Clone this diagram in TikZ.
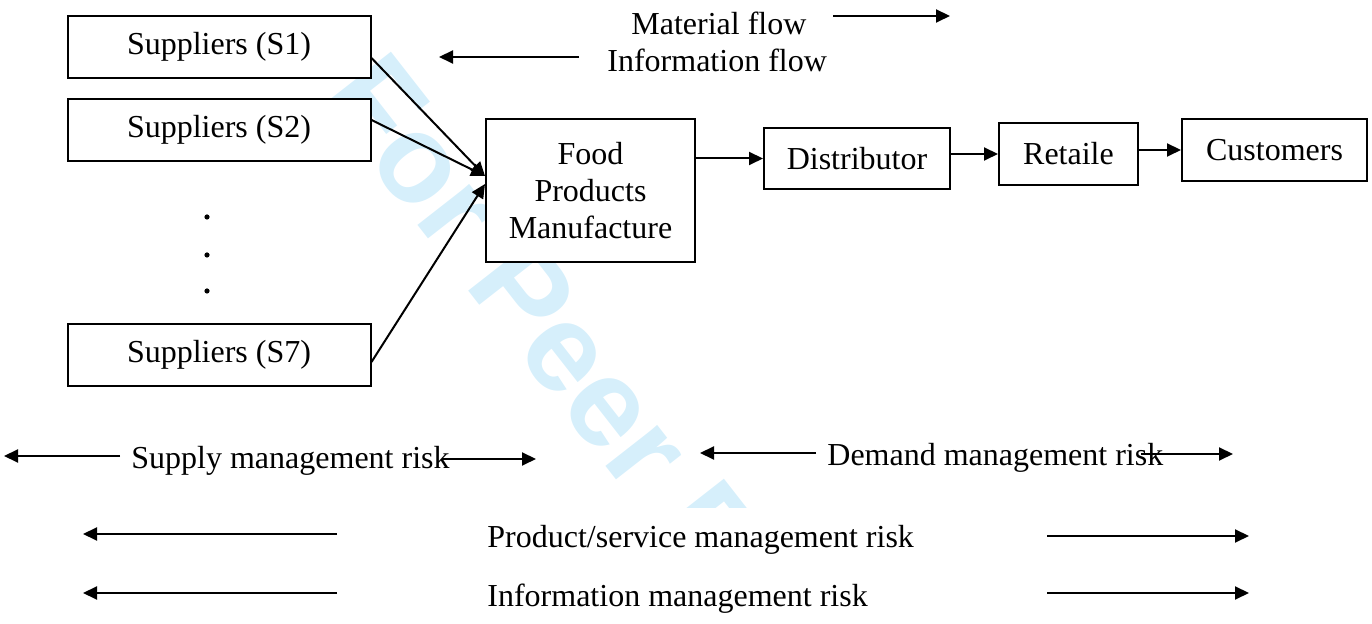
\documentclass[tikz,border=0pt]{standalone}
\usepackage{fontspec}
\setmainfont{Liberation Serif}
\newfontfamily\wmfont{Liberation Sans}
\usetikzlibrary{arrows.meta}
\definecolor{wmblue}{RGB}{214,239,251}

\tikzset{
  box/.style={draw, line width=1pt, fill=white, inner sep=0pt, align=center},
  supbox/.style={box, minimum width=151.5pt, minimum height=31pt},
  flow/.style={line width=1pt, -{Triangle[length=7pt,width=6.5pt]}},
  lbl/.style={inner sep=0pt, anchor=base west},
}

\begin{document}
\begin{tikzpicture}[x=0.5pt, y=-0.5pt, font=\fontsize{16}{18.5}\selectfont]
\useasboundingbox (0,0) rectangle (1372,624);

% watermark behind everything
\begin{scope}
\clip (0,0) rectangle (1372,508);
\node[text=wmblue, inner sep=0pt, anchor=base west, rotate=-52,
  font=\wmfont\bfseries\fontsize{62.5}{62.5}\selectfont] (wm) at (318,98) {For Peer Review};
\end{scope}

% suppliers
\node[supbox] (s1) at (219,47) {Suppliers (S1)};
\node[supbox] (s2) at (219,130) {Suppliers (S2)};
\node[supbox] (s7) at (219,355) {Suppliers (S7)};
\foreach \y in {217,255,291}
  \fill (207,\y) circle (1.3pt);

% chain
\node[box, minimum width=104.5pt, minimum height=71.5pt] (food) at (590.5,190.5) {Food\\Products\\Manufacture};
\node[box, minimum width=93pt, minimum height=30.5pt] (dist) at (857,158.5) {Distributor};
\node[box, minimum width=69.5pt, minimum height=31pt] (ret) at (1068.5,154) {Retaile};
\node[box, minimum width=92.5pt, minimum height=31pt] (cust) at (1274.5,150) {Customers};

\draw[flow] ([yshift=-5.5pt]s1.east) -- ([yshift=7.25pt]food.west);
\draw[flow] ([yshift=5pt]s2.east) -- ([yshift=7.25pt]food.west);
\draw[flow] ([yshift=-3.5pt]s7.east) -- ([yshift=3.25pt]food.west);
\draw[flow] (food.east |- dist.west) -- (dist.west);
\draw[flow] (dist.east |- ret.west) -- (ret.west);
\draw[flow] (ret.east |- cust.west) -- (cust.west);

% legend
\node[lbl] (matflow) at (631,35) {Material flow};
\node[lbl] (infoflow) at (607,72) {Information flow};
\coordinate (mf1) at (833,16);
\coordinate (mf2) at (950,16);
\coordinate (if1) at (579,57);
\coordinate (if2) at (439,57);
\draw[flow] (mf1) -- (mf2);
\draw[flow] (if1) -- (if2);

% risks
\node[lbl] (supply) at (131,469) {Supply management risk};
\node[lbl] (demand) at (827,466) {Demand management risk};
\node[lbl] (product) at (487,548) {Product/service management risk};
\node[lbl] (inform) at (487,607) {Information management risk};

\coordinate (sl1) at (120,456);
\coordinate (sl2) at (4,456);
\coordinate (sr1) at (442,459);
\coordinate (sr2) at (536,459);
\coordinate (dl1) at (816,453);
\coordinate (dl2) at (700,453);
\coordinate (dr1) at (1141,454);
\coordinate (dr2) at (1233,454);
\coordinate (pl1) at (337,534);
\coordinate (pl2) at (83,534);
\coordinate (pr1) at (1047,536);
\coordinate (pr2) at (1249,536);
\coordinate (il1) at (337,593);
\coordinate (il2) at (83,593);
\coordinate (ir1) at (1047,593);
\coordinate (ir2) at (1249,593);
\foreach \p in {sl,sr,dl,dr,pl,pr,il,ir}
  \draw[flow] (\p1) -- (\p2);
\end{tikzpicture}
\end{document}
